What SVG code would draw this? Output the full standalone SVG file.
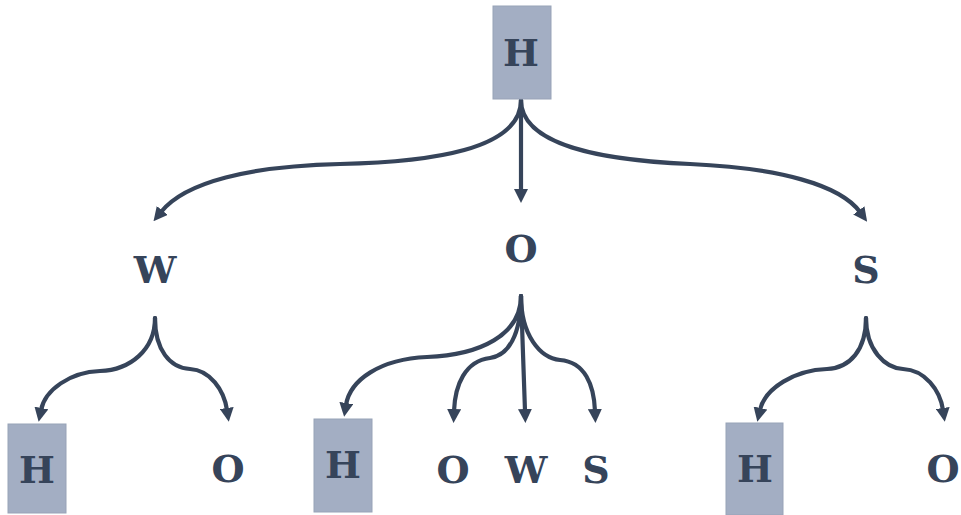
<svg xmlns="http://www.w3.org/2000/svg" width="961" height="515" viewBox="0 0 961 515">
<style>
.box{fill:#a3aec3;stroke:#98a3b7;stroke-width:1}
.lbl{font-family:"DejaVu Serif","Liberation Serif",serif;font-weight:bold;font-size:38px;fill:#36445a;text-anchor:middle}
.edge{fill:none;stroke:#36445a;stroke-width:4.2;stroke-linecap:round}
</style>
<defs>
<marker id="arr" viewBox="0 0 14 14" refX="2" refY="7" markerWidth="14" markerHeight="14" markerUnits="userSpaceOnUse" orient="auto">
<path d="M0,0 L14,7 L0,14 z" fill="#36445a"/>
</marker>
</defs>
<g id="connectors">
<path class="edge" marker-end="url(#arr)" d="M521,100 C521,150 430,162 340,164 C250,166 185,182 161,212"/>
<path class="edge" marker-end="url(#arr)" d="M521,100 L521,191"/>
<path class="edge" marker-end="url(#arr)" d="M521,100 C521,145 600,160 690,164 C780,168 840,185 860,212"/>
<path class="edge" marker-end="url(#arr)" d="M155,318 C155,350 130,370 100,371 C70,372 45,390 41,410"/>
<path class="edge" marker-end="url(#arr)" d="M155,318 C155,350 170,368 190,369 C210,370 224,390 227,410"/>
<path class="edge" marker-end="url(#arr)" d="M521,296 C521,335 480,355 427,357 C380,359 350,380 346,405"/>
<path class="edge" marker-end="url(#arr)" d="M521,296 C521,335 508,356 490,358 C465,361 455,385 454,411"/>
<path class="edge" marker-end="url(#arr)" d="M521,296 L525,411"/>
<path class="edge" marker-end="url(#arr)" d="M521,296 C521,335 540,358 560,360 C585,362 594,385 595,411"/>
<path class="edge" marker-end="url(#arr)" d="M866,318 C866,350 850,368 827,369 C795,370 765,388 760,410"/>
<path class="edge" marker-end="url(#arr)" d="M866,318 C866,350 885,368 903,369 C925,370 940,390 943,410"/>
</g>
<g id="root"><rect class="box" x="493" y="6" width="58" height="93"/><text class="lbl" x="521" y="66">H</text></g>
<g id="w"><text class="lbl" x="155" y="283">W</text></g>
<g id="o"><text class="lbl" x="521" y="262">O</text></g>
<g id="s"><text class="lbl" x="866" y="283">S</text></g>
<g id="w-h"><rect class="box" x="8" y="424" width="58" height="89"/><text class="lbl" x="37" y="483">H</text></g>
<g id="w-o"><text class="lbl" x="228" y="482">O</text></g>
<g id="o-h"><rect class="box" x="314" y="419" width="58" height="93"/><text class="lbl" x="343" y="478">H</text></g>
<g id="o-o"><text class="lbl" x="453" y="483">O</text></g>
<g id="o-w"><text class="lbl" x="526" y="483">W</text></g>
<g id="o-s"><text class="lbl" x="596" y="483">S</text></g>
<g id="s-h"><rect class="box" x="726" y="423" width="57" height="92"/><text class="lbl" x="755" y="482">H</text></g>
<g id="s-o"><text class="lbl" x="943" y="482">O</text></g>
</svg>
